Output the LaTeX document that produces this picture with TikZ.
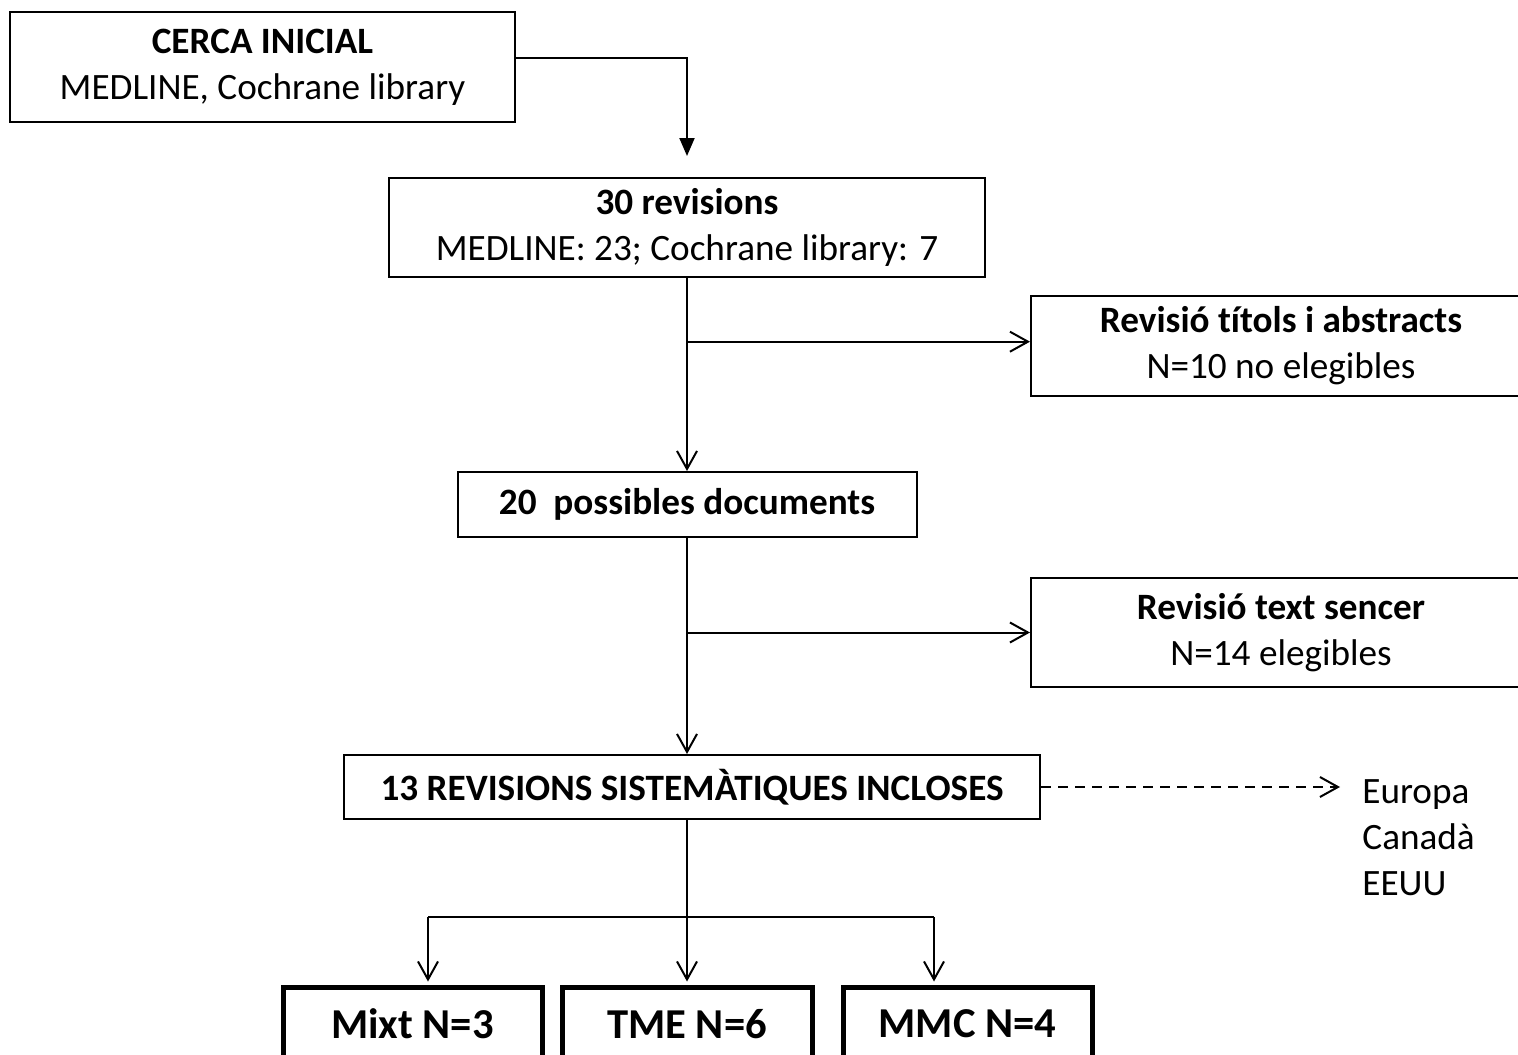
\documentclass[tikz,border=0pt]{standalone}
\usepackage{fontspec}
\setmainfont{Carlito}[Ligatures=NoCommon]
\usetikzlibrary{arrows.meta,calc}

\begin{document}
\begin{tikzpicture}[x=0.5pt,y=-0.5pt,
    caixa/.style={draw, line width=1pt, align=center, inner sep=0pt,
        font=\fontsize{18.6}{23}\selectfont},
    final/.style={draw, line width=2.5pt, inner sep=0pt, minimum height=37pt,
        font=\fontsize{21.3}{24}\selectfont\bfseries},
    fletxa/.style={-{Straight Barb[length=9pt,width=10pt]}, line width=1pt},
    ]
    \useasboundingbox (0,0) rectangle (1518,1054);

    % Caixes
    \node[caixa, minimum width=252.5pt, minimum height=55pt] (cerca) at (262.5,67)
        {\textbf{CERCA INICIAL}\\MEDLINE, Cochrane library};
    \node[caixa, minimum width=298pt, minimum height=49.5pt] (rev30) at (687,227.5)
        {\textbf{30 revisions}\\MEDLINE: 23; Cochrane library: 7};
    \node[caixa, minimum width=250pt, minimum height=50pt] (titols) at (1281,346)
        {\textbf{Revisió títols i abstracts}\\N=10 no elegibles};
    \node[caixa, minimum width=229.5pt, minimum height=32.5pt] (poss) at (687,504.5)
        {\textbf{20\ \ possibles documents}};
    \node[caixa, minimum width=250pt, minimum height=54.5pt] (sencer) at (1281,632.5)
        {\textbf{Revisió text sencer}\\N=14 elegibles};
    \node[caixa, minimum width=348pt, minimum height=32pt] (incl) at (692,787)
        {\textbf{13 REVISIONS SISTEMÀTIQUES INCLOSES}};
    \node[anchor=west, align=left, inner sep=0pt, font=\fontsize{18.6}{23}\selectfont]
        (eur) at (1362,838) {Europa\\Canadà\\EEUU};

    \node[final, minimum width=129.5pt] (mixt) at (412.5,1024) {Mixt N=3};
    \node[final, minimum width=125pt] (tme) at (687,1024) {TME N=6};
    \node[final, minimum width=124.5pt] (mmc) at (967.5,1024) {MMC N=4};

    % Cerca inicial
    \draw[-{Triangle[length=9pt,width=7.5pt]}, line width=1pt]
        ([yshift=4.5pt]cerca.east) -| ([yshift=10.5pt]rev30.north);

    % Columna central
    \draw[fletxa] (rev30.south) -- (poss.north);
    \coordinate (b1) at ($(rev30.south)!0.33!(poss.north)$);
    \draw[fletxa] (b1) -- (b1 -| titols.west);

    \draw[fletxa] (poss.south) -- (poss.south |- incl.north);
    \coordinate (b2) at (poss.south |- sencer.west);
    \draw[fletxa] (b2) -- (sencer.west);

    % Dashed lines
    \draw[fletxa, dash pattern=on 5pt off 3.5pt]
        (incl.east) -- ([xshift=-11pt]incl.east -| eur.west);

    % Branques finals
    \coordinate (s0) at (poss.south |- incl.south);
    \coordinate (s) at (687,917);
    \coordinate (s1) at (428,917);
    \coordinate (s3) at (934,917);
    \draw[line width=1pt] (s0) -- (s);
    \draw[line width=1pt] (s1) -- (s3);
    \draw[fletxa] (s1) -- ([yshift=1.5pt]s1 |- mixt.north);
    \draw[fletxa] (s) -- ([yshift=1.5pt]tme.north);
    \draw[fletxa] (s3) -- ([yshift=1.5pt]s3 |- mmc.north);
\end{tikzpicture}
\end{document}
